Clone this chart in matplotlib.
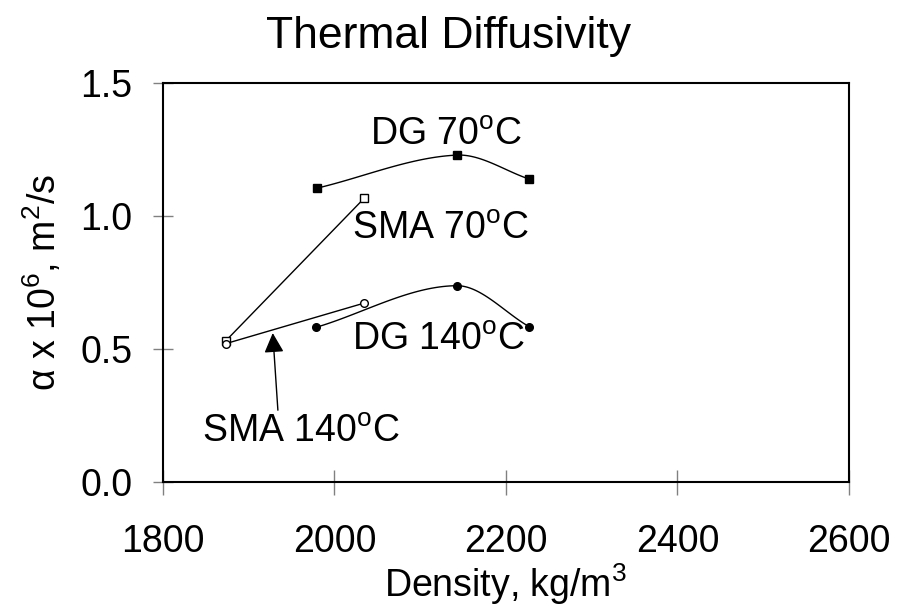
import numpy as np
import matplotlib.pyplot as plt

plt.rcParams['font.family'] = 'Liberation Sans'
plt.rcParams['mathtext.fontset'] = 'custom'
plt.rcParams['mathtext.rm'] = 'Liberation Sans'
plt.rcParams['mathtext.it'] = 'Liberation Sans'

# ---------------- data
dg70_x = [1980, 2143, 2227]
dg70_y = [1.105, 1.229, 1.139]
sma70_x = [1873, 2035]
sma70_y = [0.530, 1.068]
dg140_x = [1979, 2143, 2227]
dg140_y = [0.582, 0.738, 0.584]
sma140_x = [1873, 2035]
sma140_y = [0.520, 0.673]

xticks = [1800, 2000, 2200, 2400, 2600]
yticks = [0.0, 0.5, 1.0, 1.5]


# ---------------- Catmull-Rom style hermite curve, only to draw the smooth line through the points
def smooth(xs, ys, n=40):
    xs = np.asarray(xs, float)
    ys = np.asarray(ys, float)
    m = len(xs)
    d = np.zeros(m)
    d[0] = (ys[1] - ys[0]) / (xs[1] - xs[0])
    d[-1] = (ys[-1] - ys[-2]) / (xs[-1] - xs[-2])
    for i in range(1, m - 1):
        d[i] = (ys[i + 1] - ys[i - 1]) / (xs[i + 1] - xs[i - 1])
    XX, YY = [], []
    for i in range(m - 1):
        h = xs[i + 1] - xs[i]
        t = np.linspace(0, 1, n)
        h00 = 2 * t**3 - 3 * t**2 + 1
        h10 = t**3 - 2 * t**2 + t
        h01 = -2 * t**3 + 3 * t**2
        h11 = t**3 - t**2
        XX.append(xs[i] + t * h)
        YY.append(h00 * ys[i] + h10 * h * d[i] + h01 * ys[i + 1] + h11 * h * d[i + 1])
    return np.concatenate(XX), np.concatenate(YY)


fig = plt.figure(figsize=(8.98, 6.09), dpi=100)
ax = fig.add_axes([0.1815, 0.2085, 0.7639, 0.6552])

ms = 5.5
sx, sy = smooth(dg70_x, dg70_y)
ax.plot(sx, sy, color='black', lw=1)
ax.plot(dg70_x, dg70_y, ls='none', marker='s', ms=ms, color='black')

ax.plot(sma70_x, sma70_y, color='black', lw=1, marker='s', ms=ms,
        mfc='white', mec='black', mew=1)

sx, sy = smooth(dg140_x, dg140_y)
ax.plot(sx, sy, color='black', lw=1)
ax.plot(dg140_x, dg140_y, ls='none', marker='o', ms=ms, color='black')

ax.plot(sma140_x, sma140_y, color='black', lw=1, marker='o', ms=ms,
        mfc='white', mec='black', mew=1)

# ---------------- labels on the curves
deg = r'$^{\rm o}$C'
fs = 27
ax.text(2042, 1.267, 'DG 70' + deg, fontsize=fs)
ax.text(2020, 0.914, 'SMA 70' + deg, fontsize=fs)
ax.text(2020, 0.496, 'DG 140' + deg, fontsize=fs)
ax.annotate('', xy=(1928, 0.56), xytext=(1934, 0.27),
            arrowprops=dict(arrowstyle='-|>', color='black', lw=1,
                            mutation_scale=30, shrinkA=0, shrinkB=0))
ax.text(1846, 0.150, 'SMA 140' + deg, fontsize=fs)

ax.set_xlim(1800, 2600)
ax.set_ylim(0, 1.5)
ax.set_xticks(xticks)
ax.set_yticks(yticks)
ax.set_yticklabels(['%.1f' % v for v in yticks])
ax.tick_params(axis='x', direction='inout', length=18, width=1, color='gray',
               labelsize=fs, pad=21)
ax.tick_params(axis='y', direction='inout', length=14, width=1, color='gray',
               labelsize=fs, pad=15)
for s in ax.spines.values():
    s.set_linewidth(1.5)

ax.set_xlabel('Density, kg/m$^3$', fontsize=fs, labelpad=1)
ax.set_ylabel(r'$\alpha$ x 10$^6$, m$^2$/s', fontsize=fs, labelpad=12)
fig.text(0.5, 1 - 48 / 609, 'Thermal Diffusivity', fontsize=32,
         ha='center', va='baseline')

fig.savefig('out.png', dpi=100)
